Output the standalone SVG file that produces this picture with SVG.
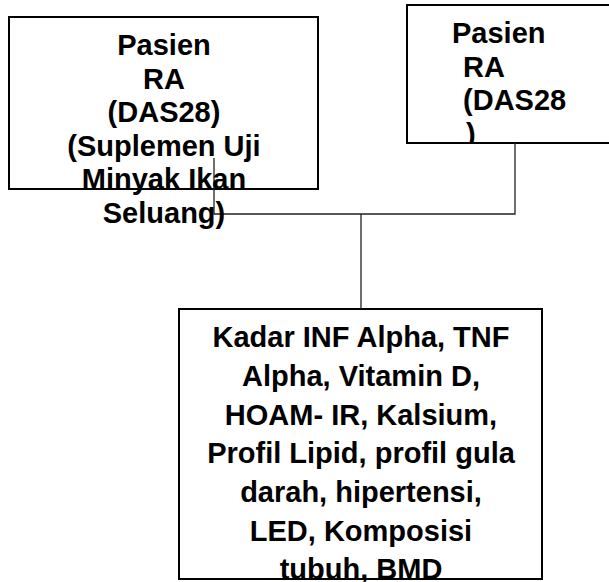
<svg xmlns="http://www.w3.org/2000/svg" width="609" height="582" viewBox="0 0 609 582">
<style>
.box{fill:#fff;stroke:#000;stroke-width:2}
.t{font-family:"Liberation Sans",Arial,sans-serif;font-weight:bold;font-size:29px;fill:#000}
.c{text-anchor:middle}
.conn{stroke:#222;stroke-width:1.3;fill:none}
</style>
<defs>
<clipPath id="clip2"><rect x="407" y="5" width="210" height="138"/></clipPath>
</defs>
<g id="box1">
<rect class="box" x="9" y="17" width="309" height="172"/>
</g>
<g id="box2">
<rect class="box" x="407" y="5" width="220" height="138"/>
<text class="t" clip-path="url(#clip2)" xml:space="preserve"><tspan x="452" y="43">Pasien</tspan><tspan x="455" y="77"> RA</tspan><tspan x="455" y="110"> (DAS28</tspan><tspan x="458" y="144"> )</tspan></text>
</g>
<g id="box3">
<rect class="box" x="179" y="309" width="363" height="270"/>
<text class="t c"><tspan x="361" y="347">Kadar INF Alpha, TNF</tspan><tspan x="361" y="386">Alpha, Vitamin D,</tspan><tspan x="361" y="425">HOAM- IR, Kalsium,</tspan><tspan x="361" y="463">Profil Lipid, profil gula</tspan><tspan x="361" y="502">darah, hipertensi,</tspan><tspan x="361" y="541">LED, Komposisi</tspan><tspan x="361" y="579">tubuh, BMD</tspan></text>
</g>
<g id="connectors">
<path class="conn" d="M214 158 V214 H515 V143 M361 214 V309"/>
</g>
<g id="box1-text">
<text class="t c"><tspan x="164" y="55">Pasien</tspan><tspan x="164" y="89">RA</tspan><tspan x="164" y="122">(DAS28)</tspan><tspan x="164" y="156">(Suplemen Uji</tspan><tspan x="164" y="189">Minyak Ikan</tspan><tspan x="164" y="223">Seluang)</tspan></text>
</g>
<rect x="179" y="578" width="363" height="2" fill="#000"/>
</svg>
